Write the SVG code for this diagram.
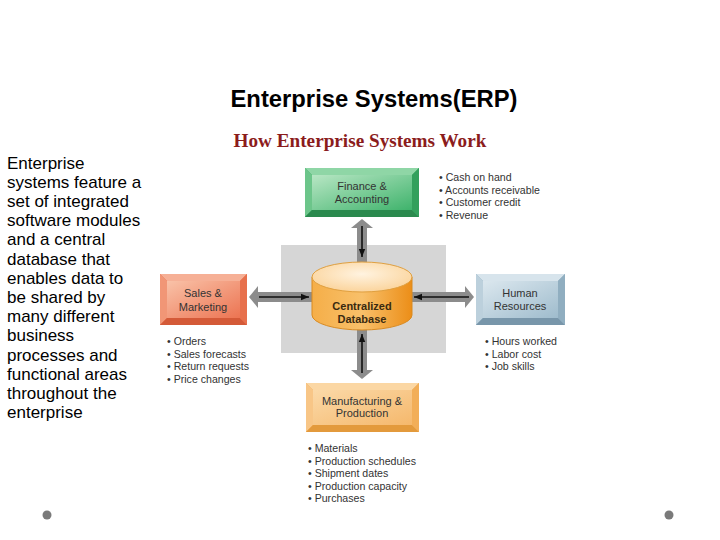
<svg xmlns="http://www.w3.org/2000/svg" width="720" height="540" viewBox="0 0 720 540">
<style>
.title{font-family:"Liberation Sans",Arial,sans-serif;font-weight:bold;font-size:23.8px;fill:#000}
.sub{font-family:"Liberation Serif","Times New Roman",serif;font-weight:bold;font-size:19.2px;fill:#8b1c1c}
.body{font-family:"Liberation Sans",Arial,sans-serif;font-size:17px;fill:#000}
.lbl{font-family:"Liberation Sans",Arial,sans-serif;font-size:11px;fill:#333;text-anchor:middle}
.db{font-family:"Liberation Sans",Arial,sans-serif;font-size:11px;font-weight:bold;fill:#3a2a10;text-anchor:middle}
.li{font-family:"Liberation Sans",Arial,sans-serif;font-size:10.6px;fill:#333}
.shaft{fill:#8c8c8c}
.blk{stroke:#111;stroke-width:1.6;fill:none;marker-end:url(#ah)}
</style>
<defs>
<marker id="ah" viewBox="0 0 10 10" refX="10" refY="5" markerWidth="5" markerHeight="5" orient="auto" markerUnits="strokeWidth">
<path d="M0,1 L10,5 L0,9 z" fill="#111"/>
</marker>
<linearGradient id="gG" x1="0" y1="0" x2="1" y2="1"><stop offset="0" stop-color="#b8e6c4"/><stop offset="1" stop-color="#3fb36c"/></linearGradient>
<linearGradient id="gS" x1="0" y1="0" x2="1" y2="1"><stop offset="0" stop-color="#f9c2a8"/><stop offset="1" stop-color="#ec7452"/></linearGradient>
<linearGradient id="gH" x1="0" y1="0" x2="1" y2="1"><stop offset="0" stop-color="#dbe7ee"/><stop offset="1" stop-color="#9fbccd"/></linearGradient>
<linearGradient id="gM" x1="0" y1="0" x2="1" y2="1"><stop offset="0" stop-color="#fbd9a8"/><stop offset="1" stop-color="#f5b86c"/></linearGradient>
<linearGradient id="gCyl" x1="0" y1="0" x2="1" y2="0"><stop offset="0" stop-color="#f5ae48"/><stop offset="0.5" stop-color="#f8c06a"/><stop offset="1" stop-color="#ec8e18"/></linearGradient>
<radialGradient id="gTop" cx="0.5" cy="0.4" r="0.6"><stop offset="0" stop-color="#fff3e0"/><stop offset="1" stop-color="#fbd49c"/></radialGradient>
</defs>

<rect width="720" height="540" fill="#fff"/>

<text class="title" x="374" y="107" text-anchor="middle">Enterprise Systems(ERP)</text>
<text class="sub" x="360" y="147" text-anchor="middle">How Enterprise Systems Work</text>

<g id="description">
<text class="body" x="7" y="168.5">Enterprise</text>
<text class="body" x="7" y="187.7">systems feature a</text>
<text class="body" x="7" y="206.9">set of integrated</text>
<text class="body" x="7" y="226.1">software modules</text>
<text class="body" x="7" y="245.3">and a central</text>
<text class="body" x="7" y="264.5">database that</text>
<text class="body" x="7" y="283.7">enables data to</text>
<text class="body" x="7" y="302.9">be shared by</text>
<text class="body" x="7" y="322.1">many different</text>
<text class="body" x="7" y="341.3">business</text>
<text class="body" x="7" y="360.5">processes and</text>
<text class="body" x="7" y="379.7">functional areas</text>
<text class="body" x="7" y="398.9">throughout the</text>
<text class="body" x="7" y="418.1">enterprise</text>
</g>

<rect id="backdrop" x="281" y="245" width="165" height="108" fill="#d6d6d6"/>

<g id="connectors">
<rect class="shaft" x="357" y="227" width="10" height="36"/>
<polygon class="shaft" points="362,219 373,228 351,228"/>
<path class="blk" d="M362,226 L362,257"/>
<rect class="shaft" x="257" y="292" width="56" height="10"/>
<polygon class="shaft" points="249,297 258,286 258,308"/>
<path class="blk" d="M259,297 L309,297"/>
<rect class="shaft" x="411" y="292" width="57" height="10"/>
<polygon class="shaft" points="474,297 465,286 465,308"/>
<path class="blk" d="M469,297 L414,297"/>
<rect class="shaft" x="357" y="328" width="10" height="43"/>
<polygon class="shaft" points="362,379 373,370 351,370"/>
<path class="blk" d="M362,373 L362,334"/>
</g>

<g id="database">
<path d="M312,277 L312,315 A50,15 0 0 0 412,315 L412,277 Z" fill="url(#gCyl)" stroke="#d98a20" stroke-width="1"/>
<ellipse cx="362" cy="277" rx="50" ry="15" fill="url(#gTop)" stroke="#e0a040" stroke-width="1"/>
<text class="db" x="362" y="310">Centralized</text>
<text class="db" x="362" y="323">Database</text>
</g>

<g id="finance">
<rect x="305" y="168" width="114" height="49" fill="#3aa862"/>
<polygon points="305,168 419,168 412,175 312,175" fill="#8fd6a6"/>
<polygon points="305,168 312,175 312,210 305,217" fill="#6cc58a"/>
<polygon points="305,217 312,210 412,210 419,217" fill="#2b8a4e"/>
<polygon points="419,168 412,175 412,210 419,217" fill="#33a05c"/>
<rect x="312" y="175" width="100" height="35" fill="url(#gG)"/>
<text class="lbl" x="362" y="190">Finance &amp;</text>
<text class="lbl" x="362" y="203">Accounting</text>
</g>

<g id="sales">
<rect x="160" y="274" width="87" height="51" fill="#e86a48"/>
<polygon points="160,274 247,274 240,281 167,281" fill="#f6b096"/>
<polygon points="160,274 167,281 167,318 160,325" fill="#f19676"/>
<polygon points="160,325 167,318 240,318 247,325" fill="#d45a38"/>
<polygon points="247,274 240,281 240,318 247,325" fill="#e7704c"/>
<rect x="167" y="281" width="73" height="37" fill="url(#gS)"/>
<text class="lbl" x="203" y="297">Sales &amp;</text>
<text class="lbl" x="203" y="311">Marketing</text>
</g>

<g id="hr">
<rect x="476" y="274" width="89" height="51" fill="#8aa9bc"/>
<polygon points="476,274 565,274 558,281 483,281" fill="#d7e4ec"/>
<polygon points="476,274 483,281 483,318 476,325" fill="#bcd0dc"/>
<polygon points="476,325 483,318 558,318 565,325" fill="#7896aa"/>
<polygon points="565,274 558,281 558,318 565,325" fill="#90aec0"/>
<rect x="483" y="281" width="75" height="37" fill="url(#gH)"/>
<text class="lbl" x="520" y="297">Human</text>
<text class="lbl" x="520" y="310">Resources</text>
</g>

<g id="manufacturing">
<rect x="306" y="383" width="113" height="49" fill="#f0a850"/>
<polygon points="306,383 419,383 412,390 313,390" fill="#fbd7a4"/>
<polygon points="306,383 313,390 313,425 306,432" fill="#f8c687"/>
<polygon points="306,432 313,425 412,425 419,432" fill="#e39a3c"/>
<polygon points="419,383 412,390 412,425 419,432" fill="#f2ae58"/>
<rect x="313" y="390" width="99" height="35" fill="url(#gM)"/>
<text class="lbl" x="362" y="405">Manufacturing &amp;</text>
<text class="lbl" x="362" y="417">Production</text>
</g>

<g id="finance-list">
<text class="li" x="439" y="181">• Cash on hand</text>
<text class="li" x="439" y="193.5">• Accounts receivable</text>
<text class="li" x="439" y="206">• Customer credit</text>
<text class="li" x="439" y="218.5">• Revenue</text>
</g>
<g id="sales-list">
<text class="li" x="167" y="345">• Orders</text>
<text class="li" x="167" y="357.5">• Sales forecasts</text>
<text class="li" x="167" y="370">• Return requests</text>
<text class="li" x="167" y="382.5">• Price changes</text>
</g>
<g id="hr-list">
<text class="li" x="485" y="345">• Hours worked</text>
<text class="li" x="485" y="357.5">• Labor cost</text>
<text class="li" x="485" y="370">• Job skills</text>
</g>
<g id="manufacturing-list">
<text class="li" x="308" y="452">• Materials</text>
<text class="li" x="308" y="464.5">• Production schedules</text>
<text class="li" x="308" y="477">• Shipment dates</text>
<text class="li" x="308" y="489.5">• Production capacity</text>
<text class="li" x="308" y="502">• Purchases</text>
</g>

<circle cx="47" cy="515" r="4.5" fill="#7a7a7a"/>
<circle cx="669" cy="515" r="4.5" fill="#7a7a7a"/>
</svg>
